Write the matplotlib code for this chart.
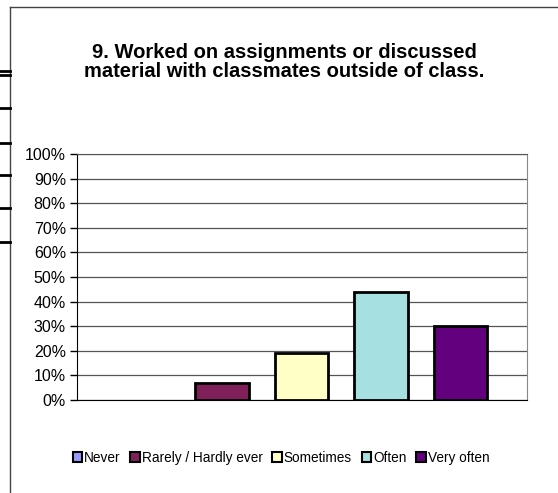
import matplotlib.pyplot as plt
from matplotlib.lines import Line2D

# Data
categories = ['Never', 'Rarely / Hardly ever', 'Sometimes', 'Often', 'Very often']
values = [0, 7, 19, 44, 30]
colors = ['#9999FF', '#80205A', '#FFFFC6', '#A6E0E0', '#62007E']
yticks = [0, 10, 20, 30, 40, 50, 60, 70, 80, 90, 100]
title = '9. Worked on assignments or discussed\nmaterial with classmates outside of class.'

plt.rcParams['font.family'] = ['Liberation Sans', 'DejaVu Sans']

W, H = 558, 493
fig = plt.figure(figsize=(W / 100, H / 100), dpi=100)

# plot area in pixels: left 77, right 527, top 154, bottom 400
ax = fig.add_axes([77 / W, 1 - 400 / H, 450 / W, 246 / H])

x = list(range(len(categories)))
# a zero-height bar shows no outline in the original
edge_w = [2 if v > 0 else 0 for v in values]
ax.bar(x, values, width=0.67, color=colors, edgecolor='black', linewidth=edge_w, zorder=3)

ax.set_ylim(0, 100)
ax.set_xlim(-0.824, 4.836)
ax.set_yticks(yticks)
ax.set_yticklabels([f'{t}%' for t in yticks], fontsize=11.5)
ax.set_xticks([])
ax.grid(axis='y', color='#555555', linewidth=0.9, zorder=0)
ax.tick_params(axis='y', length=5, width=1, direction='out', pad=3)

ax.spines['left'].set_color('black')
ax.spines['bottom'].set_color('black')
ax.spines['top'].set_color('#555555')
ax.spines['right'].set_color('#888888')

fig.text(284 / W, 1 - 62 / H, title, ha='center', va='center', fontsize=14.5,
         fontweight='bold', linespacing=1.0)

# legend
handles = [plt.Rectangle((0, 0), 1, 1, facecolor=c, edgecolor='black', linewidth=1.5)
           for c in colors]
fig.legend(handles, categories, loc='center', bbox_to_anchor=(281 / W, 1 - 458 / H),
           ncol=5, frameon=False, fontsize=9.8, handlelength=0.7, handleheight=0.7,
           handletextpad=0.15, columnspacing=0.7)

# outer chart frame and spreadsheet remnants at the left
fig.add_artist(Line2D([10 / W, 10 / W], [0, 1 - 7 / H], color='#444444', linewidth=1,
                      transform=fig.transFigure))
fig.add_artist(Line2D([10 / W, 1], [1 - 7 / H, 1 - 7 / H], color='#444444', linewidth=1,
                      transform=fig.transFigure))
for yy in [71, 75, 108, 143, 175, 208, 242]:
    fig.add_artist(Line2D([0, 10 / W], [1 - yy / H, 1 - yy / H], color='black', linewidth=2,
                          transform=fig.transFigure))

fig.savefig('out.png', dpi=100)
